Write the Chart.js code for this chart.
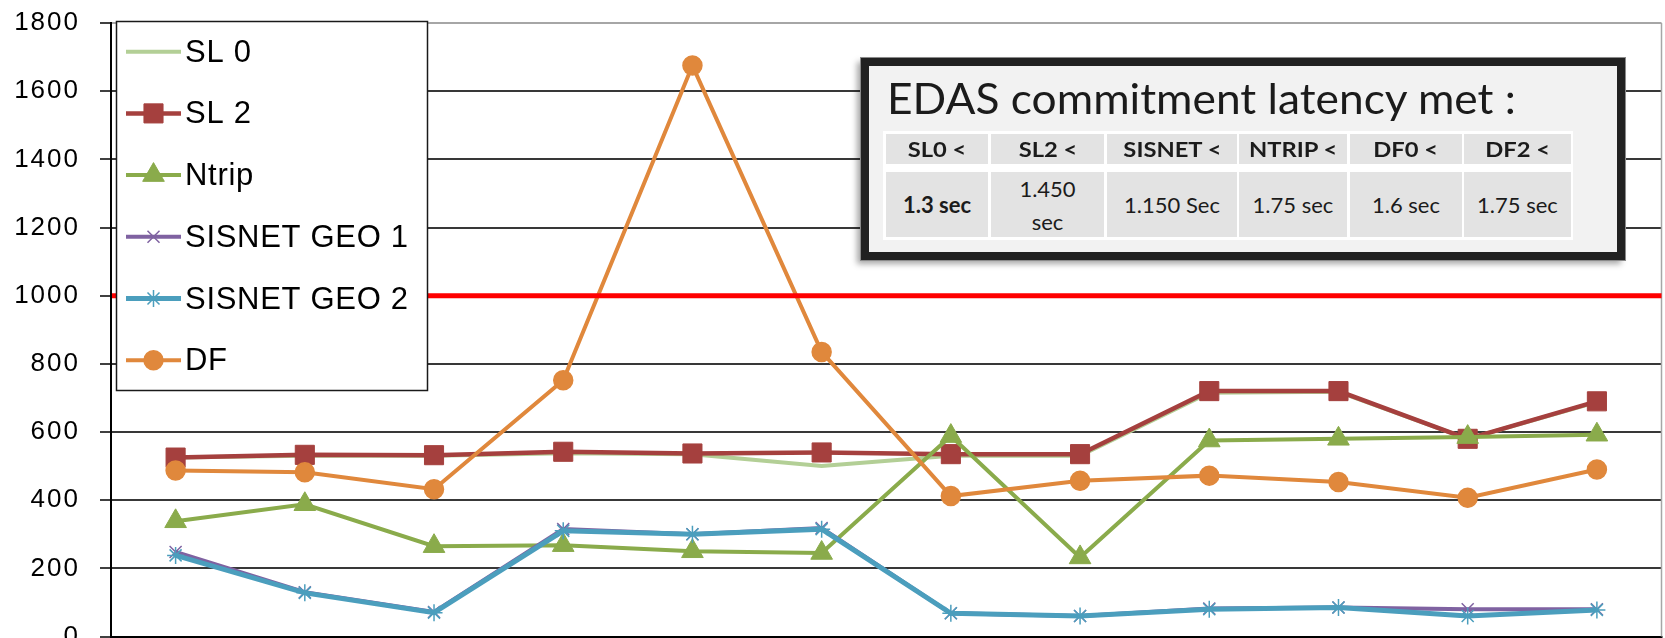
<!DOCTYPE html>
<html><head><meta charset="utf-8">
<script src="https://cdn.jsdelivr.net/npm/chart.js@4/dist/chart.umd.min.js"></script>
<style>
html,body{margin:0;background:#fff;overflow:hidden;}
#wrap{position:relative;width:1665px;height:638px;overflow:hidden;background:#fff;}
#c{position:absolute;left:0;top:0;}
#box{position:absolute;left:861px;top:58px;width:764px;height:202px;box-sizing:border-box;border:8px solid #212121;background:#f2f2f2;
 box-shadow:0 0 0 1px #8a8a8a,-4px 4px 6px rgba(0,0,0,.35);font-family:Lato,"Open Sans",sans-serif;color:#1b1b1b;}
#title{position:absolute;left:18px;top:11px;font-size:42px;line-height:42px;white-space:nowrap;transform-origin:0 0;transform:scaleX(1.055);}
#tbl{position:absolute;left:14px;top:65px;width:690px;height:109px;background:#fff;}
.cell{position:absolute;background:#e3e3e3;display:flex;align-items:center;justify-content:center;text-align:center;white-space:pre-line;}
.hd{font-weight:bold;font-size:21px;line-height:22px;}
.hd span{display:inline-block;transform:scaleX(1.13);}
.dv{font-size:22px;line-height:33px;}
</style></head>
<body>
<div id="wrap">
<canvas id="c" width="1665" height="638"></canvas>
<div id="box"><div id="title">EDAS commitment latency met :</div><div id="tbl"></div></div>
</div>
<script>
// ---- data ----
const categories = ['1','2','3','4','5','6','7','8','9','10','11','12'];
const seriesNames = ['SL 0','SL 2','Ntrip','SISNET GEO 1','SISNET GEO 2','DF'];
const sl0    = [525, 530, 530, 538, 535, 500, 530, 530, 715, 718, 580, 688];
const sl2    = [525, 533, 532, 542, 537, 540, 535, 535, 720, 720, 580, 690];
const ntrip  = [338, 388, 265, 268, 250, 245, 588, 232, 575, 580, 585, 592];
const geo1   = [248, 130, 72, 315, 300, 318, 68, 60, 82, 85, 80, 80];
const geo2   = [238, 128, 70, 310, 300, 315, 68, 60, 80, 85, 60, 78];
const df     = [487, 482, 432, 752, 1675, 835, 412, 457, 472, 453, 407, 490];
const yMin = 0, yMax = 1800, yStep = 200;
const threshold = 1000;
const boxTitle = 'EDAS commitment latency met :';
const latencyHeaders = ['SL0 <','SL2 <','SISNET <','NTRIP <','DF0 <','DF2 <'];
const latencyValues  = ['1.3 sec','1.450\nsec','1.150 Sec','1.75 sec','1.6 sec','1.75 sec'];

// ---- annotation table ----
const colX = [3,108,224,356,467,581], colW = [102,113,130,108,112,107];
const tbl = document.getElementById('tbl');
latencyHeaders.forEach((h,i)=>{
  const d=document.createElement('div');d.className='cell hd';
  d.style.cssText=`left:${colX[i]}px;top:3px;width:${colW[i]}px;height:30px;`;
  const sp=document.createElement('span');sp.textContent=h;d.appendChild(sp);tbl.appendChild(d);
  const v=document.createElement('div');v.className='cell dv';
  v.style.cssText=`left:${colX[i]}px;top:41px;width:${colW[i]}px;height:65px;`+(i===0?'font-weight:bold;':'');
  v.textContent=latencyValues[i];tbl.appendChild(v);
});
document.getElementById('title').textContent = boxTitle;

// ---- plugins ----
function drawMarker(ctx, style, r, x, y, color, bw){
  ctx.save();ctx.fillStyle=color;ctx.strokeStyle=color;ctx.lineWidth=bw;ctx.beginPath();
  if(style==='rect'){const s=r*Math.SQRT1_2;ctx.rect(x-s,y-s,2*s,2*s);ctx.fill();ctx.stroke();}
  else if(style==='triangle'){let a=0;ctx.moveTo(x+Math.sin(a)*r,y-Math.cos(a)*r);a+=2*Math.PI/3;ctx.lineTo(x+Math.sin(a)*r,y-Math.cos(a)*r);a+=2*Math.PI/3;ctx.lineTo(x+Math.sin(a)*r,y-Math.cos(a)*r);ctx.closePath();ctx.fill();ctx.stroke();}
  else if(style==='circle'){ctx.arc(x,y,r,0,Math.PI*2);ctx.fill();ctx.stroke();}
  else if(style==='crossRot'||style==='star'){const s=r*Math.SQRT1_2;ctx.moveTo(x-s,y-s);ctx.lineTo(x+s,y+s);ctx.moveTo(x-s,y+s);ctx.lineTo(x+s,y-s);
    if(style==='star'){ctx.moveTo(x,y-r);ctx.lineTo(x,y+r);ctx.moveTo(x-r,y);ctx.lineTo(x+r,y);}ctx.stroke();}
  ctx.restore();
}
const thresholdPlugin = {
  id:'thresholdLine',
  beforeDraw(chart){ try{chart.ctx.letterSpacing='2px';}catch(e){} },
  beforeDatasetsDraw(chart){ try{chart.ctx.letterSpacing='0px';}catch(e){}
    const {ctx,chartArea:a}=chart;ctx.save();ctx.strokeStyle='#a6a6a6';ctx.lineWidth=1.5;
    ctx.beginPath();ctx.moveTo(a.right,a.top);ctx.lineTo(a.right,a.bottom);ctx.stroke();ctx.restore();},
  afterDatasetsDraw(chart){
    const {ctx,chartArea:a,scales}=chart;const y=scales.y.getPixelForValue(threshold);
    ctx.save();ctx.strokeStyle='#ff0000';ctx.lineWidth=5;ctx.beginPath();ctx.moveTo(a.left+1,y);ctx.lineTo(a.right,y);ctx.stroke();ctx.restore();
  }
};
const legendPlugin = {
  id:'boxLegend',
  afterDatasetsDraw(chart){
    const ctx=chart.ctx;ctx.save();
    ctx.fillStyle='#fff';ctx.fillRect(116,21,312,370);
    ctx.strokeStyle='#1a1a1a';ctx.lineWidth=1.5;ctx.strokeRect(116.5,21.5,311,369);
    try{ctx.letterSpacing='0.7px';}catch(e){}
    chart.data.datasets.forEach((ds,i)=>{
      const y=51.7+i*61.7;
      ctx.strokeStyle=ds.borderColor;ctx.lineWidth=ds.borderWidth;ctx.beginPath();ctx.moveTo(126,y);ctx.lineTo(181,y);ctx.stroke();
      if(ds.pointRadius>0) drawMarker(ctx,ds.pointStyle,ds.pointRadius,153.5,y,ds.pointBorderColor||ds.borderColor,ds.pointBorderWidth);
      ctx.fillStyle='#000';ctx.font='31px "Liberation Sans", Arial, sans-serif';ctx.textBaseline='alphabetic';ctx.textAlign='left';
      ctx.fillText(ds.label,185,y+10);
    });
    try{ctx.letterSpacing='0px';}catch(e){}
    ctx.restore();
  }
};

// ---- chart ----
const colors = ['#b3cf96','#a5403e','#8aab4b','#7f62a1','#4b9ebd','#e0883c'];
const values = [sl0,sl2,ntrip,geo1,geo2,df];
const pstyle = ['circle','rect','triangle','crossRot','star','circle'];
const prad = [0,13.5,12.5,8.5,8.5,9.5];
const pbw = [1,1,1,1.5,1.5,1.5];
const lw = [4,4.5,4,4,5,4];
const target = {top:22.7, bottom:636, right:1661};
const canvas = document.getElementById('c');
function build(w,h){
  canvas.width=w; canvas.height=h; canvas.style.width=w+'px'; canvas.style.height=h+'px';
  const datasets = seriesNames.map((n,i)=>({
    label:n, data:values[i], borderColor:colors[i], backgroundColor:colors[i],
    pointBackgroundColor:colors[i], pointBorderColor:colors[i], pointStyle:pstyle[i],
    pointRadius:prad[i], pointBorderWidth:pbw[i], borderWidth:lw[i], tension:0, order:6-i, fill:false
  }));
  return new Chart(canvas,{
    type:'line',
    data:{labels:categories,datasets},
    options:{
      responsive:false,animation:false,devicePixelRatio:1,
      layout:{padding:{top:23,right:4,bottom:0,left:0}},
      plugins:{legend:{display:false},tooltip:{enabled:false}},
      scales:{
        x:{offset:true,
          grid:{drawOnChartArea:false,offset:true,tickLength:10,color:'#000',lineWidth:1.5},
          ticks:{display:false},border:{display:true,color:'#000',width:2},
          afterFit(s){s.height=2;s.paddingLeft=0;s.paddingRight=0;}},
        y:{min:yMin,max:yMax,
          ticks:{stepSize:yStep,color:'#000',padding:20,callback:(v)=>String(v),font:{family:'"Liberation Sans", Arial, sans-serif',size:26}},
          grid:{color:(c)=>c.tick&&c.tick.value===yMax?'#a6a6a6':'#383838',lineWidth:2,tickLength:11,tickColor:'#000',tickWidth:1.5},
          border:{display:true,color:'#000',width:2},
          afterFit(s){s.width=111;s.paddingTop=0;s.paddingBottom=0;}}
      }
    },
    plugins:[thresholdPlugin,legendPlugin]
  });
}
let W=1665,H=638;
let chart = build(W,H);
// size the canvas so that the plot area sits where the reference has it (extra canvas is clipped by #wrap)
for(let k=0;k<3;k++){
  const a=chart.chartArea;
  const dh=Math.round(target.bottom-a.bottom), dw=Math.round(target.right-a.right);
  if(dh===0&&dw===0)break;
  W+=dw;H+=dh;chart.destroy();chart=build(W,H);
}
</script>
</body></html>
